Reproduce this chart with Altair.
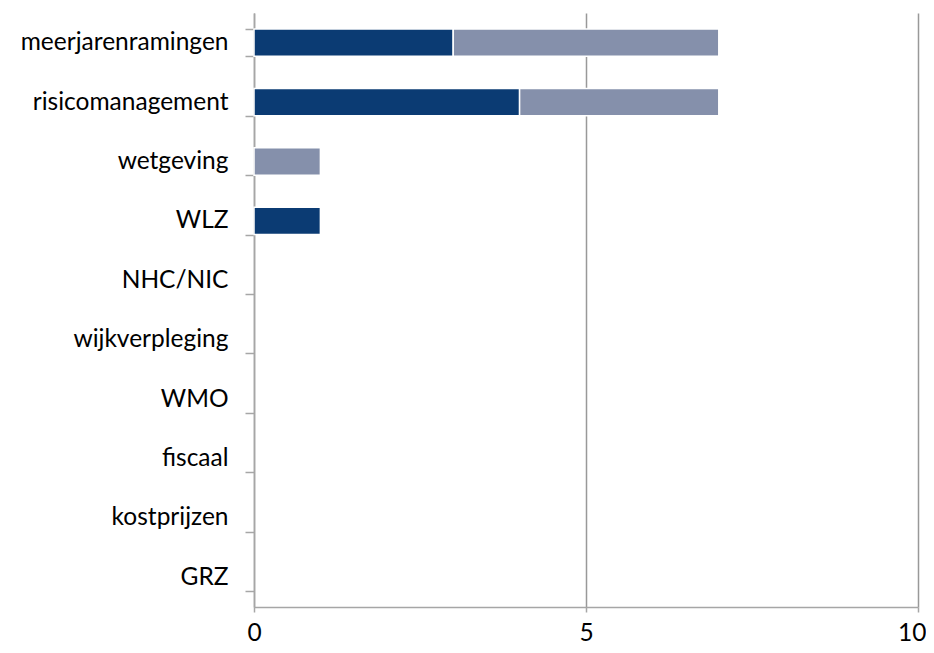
import altair as alt
import pandas as pd

categories = ["meerjarenramingen", "risicomanagement", "wetgeving", "WLZ", "NHC/NIC",
              "wijkverpleging", "WMO", "fiscaal", "kostprijzen", "GRZ"]
series_names = ["reeks 1", "reeks 2"]
series1 = [3, 4, 0, 1, 0, 0, 0, 0, 0, 0]
series2 = [4, 3, 1, 0, 0, 0, 0, 0, 0, 0]
colors = ["#0b3b73", "#8590ab"]
x_ticks = [0, 5, 10]

rows = []
for i, c in enumerate(categories):
    rows.append({"cat": c, "series": series_names[0], "value": series1[i], "ord": 0})
    rows.append({"cat": c, "series": series_names[1], "value": series2[i], "ord": 1})
df = pd.DataFrame(rows)

FONT = "Lato"
FS = 24.5

chart = alt.Chart(df).mark_bar(stroke="white", strokeWidth=1.5).encode(
    y=alt.Y("cat:N", sort=categories, title=None,
            scale=alt.Scale(domain=categories, paddingInner=0.54, paddingOuter=0.27),
            axis=alt.Axis(tickBand="extent", grid=False, domainColor="#a6a6a6",
                          tickColor="#a6a6a6", tickSize=9, labelFontSize=FS,
                          labelFont=FONT, labelColor="#000000", labelPadding=17,
                          labelLimit=400, domainWidth=1.5, tickWidth=1.5)),
    x=alt.X("value:Q", title=None, stack="zero",
            scale=alt.Scale(domain=[0, 10], nice=False),
            axis=alt.Axis(values=x_ticks, grid=True, gridColor="#999999", gridWidth=1.5,
                          domainColor="#a6a6a6", domainWidth=1.5, tickColor="#a6a6a6",
                          tickSize=5, tickWidth=1.5, labelFontSize=FS, labelFont=FONT,
                          labelColor="#000000", labelPadding=9, labelFlush=False,
                          labelAlign={"condition": {"test": "datum.value == 10", "value": "right"},
                                      "value": "center"},
                          labelOffset={"condition": {"test": "datum.value == 10", "value": 8},
                                       "value": 0},
                          format="d")),
    color=alt.Color("series:N", scale=alt.Scale(domain=series_names, range=colors), legend=None),
    order=alt.Order("ord:Q"),
).transform_filter(
    alt.datum.value > 0
).properties(
    width=664, height=594,
    autosize=alt.AutoSizeParams(type="none"),
    padding={"left": 246, "top": 5, "right": 8, "bottom": 38},
).configure_view(stroke=None)

chart.save("out.html", embed_options={"renderer": "svg", "actions": False})
